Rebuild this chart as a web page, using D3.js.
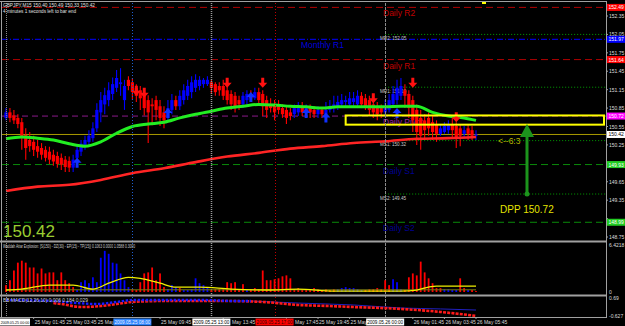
<!DOCTYPE html>
<html><head><meta charset="utf-8">
<script src="https://cdn.jsdelivr.net/npm/d3@7"></script>
<style>html,body{margin:0;padding:0;background:#000;overflow:hidden}svg{display:block}text{font-family:"Liberation Sans",Arial,sans-serif}</style>
</head><body>
<script>
// ---------------- DATA ----------------
const openP = [150.69,150.78,150.73,150.69,150.62,150.41,150.33,150.30,150.23,150.20,
150.17,150.14,150.09,150.07,150.04,150.01,149.99,149.88,150.04,150.14,
150.23,150.30,150.36,150.52,150.78,150.91,150.98,151.08,151.18,151.24,
150.98,151.31,151.27,151.18,151.14,151.08,150.98,150.91,150.98,150.88,
150.78,150.69,150.82,150.98,150.88,150.98,151.05,151.11,151.18,151.21,
151.24,151.24,151.27,151.24,151.21,151.21,151.14,151.08,151.05,150.98,
150.91,150.98,151.08,151.01,151.11,151.08,150.98,150.91,150.91,150.88,
150.85,150.82,150.78,150.75,150.78,150.88,150.78,150.85,150.82,150.75,
150.82,150.75,150.82,150.85,150.88,150.91,150.95,150.91,150.95,150.91,
151.05,151.01,150.98,150.91,150.88,150.85,150.78,150.82,150.91,150.98,
151.05,151.14,151.08,150.98,150.82,150.69,150.65,150.69,150.62,150.59,
150.43,150.46,150.49,150.59,150.56,150.52,150.43,150.52,150.49,150.40];
const highP = [150.85,150.85,150.82,150.75,150.69,150.52,150.46,150.40,150.33,150.28,
150.23,150.22,150.17,150.14,150.11,150.07,150.06,150.09,150.25,150.33,
150.40,150.49,150.62,150.93,151.11,151.18,151.27,151.35,151.47,151.50,
151.31,151.37,151.34,151.24,151.21,151.14,151.06,151.01,151.05,150.98,
150.88,150.98,151.08,151.05,151.14,151.24,151.31,151.37,151.40,151.37,
151.34,151.37,151.31,151.27,151.27,151.31,151.21,151.14,151.11,151.05,
151.11,151.14,151.14,151.18,151.18,151.14,151.05,151.01,150.98,150.98,
150.91,150.88,150.85,150.91,150.95,150.95,150.91,150.91,150.88,150.88,
150.85,150.95,150.98,151.05,151.05,151.08,151.05,151.11,151.11,151.14,
151.11,151.08,151.05,150.98,150.95,150.91,150.98,151.08,151.21,151.31,
151.34,151.24,151.14,151.05,150.91,150.82,150.75,150.78,150.72,150.65,
150.59,150.62,150.65,150.69,150.62,150.59,150.56,150.59,150.56,150.49];
const lowP = [150.65,150.62,150.59,150.52,150.17,150.01,150.14,150.07,150.04,150.01,
149.98,149.94,149.91,149.88,149.84,149.81,149.81,149.81,149.98,150.07,
150.17,150.23,150.30,150.46,150.62,150.75,150.88,150.98,151.11,151.05,
150.82,151.14,150.98,150.95,150.82,150.73,150.28,150.57,150.65,150.56,
150.52,150.62,150.75,150.82,150.82,150.91,150.98,151.01,151.11,151.14,
151.18,151.21,151.08,151.05,151.05,150.98,150.91,150.82,150.78,150.82,
150.85,150.91,150.95,150.98,150.91,150.72,150.69,150.78,150.65,150.75,
150.69,150.59,150.65,150.69,150.72,150.72,150.72,150.69,150.69,150.69,
150.69,150.72,150.78,150.78,150.82,150.85,150.88,150.85,150.88,150.85,
150.85,150.82,150.72,150.69,150.65,150.69,150.72,150.78,150.85,150.91,
150.98,150.85,150.69,150.46,150.25,150.17,150.33,150.40,150.33,150.30,
150.40,150.43,150.43,150.36,150.20,150.23,150.36,150.33,150.33,150.33];
const closeP = [150.78,150.69,150.65,150.59,150.38,150.20,150.23,150.17,150.14,150.09,
150.04,150.01,149.98,149.94,149.93,149.89,149.88,150.01,150.17,150.27,
150.33,150.40,150.52,150.82,150.98,151.06,151.14,151.24,151.34,151.27,
151.21,151.21,151.11,151.05,151.01,150.85,150.78,150.88,150.82,150.69,
150.65,150.85,150.98,150.88,151.05,151.14,151.21,151.27,151.31,151.31,
151.31,151.31,151.18,151.11,151.14,151.05,150.98,150.91,150.85,150.91,
151.05,151.08,151.01,151.11,150.98,150.88,150.82,150.85,150.78,150.82,
150.75,150.69,150.72,150.85,150.88,150.78,150.85,150.78,150.75,150.82,
150.75,150.82,150.88,150.91,150.95,150.98,150.98,151.01,151.01,151.05,
150.91,150.88,150.82,150.78,150.75,150.78,150.88,150.98,151.08,151.18,
151.21,151.05,150.85,150.65,150.46,150.40,150.49,150.52,150.46,150.43,
150.52,150.56,150.59,150.49,150.36,150.40,150.49,150.43,150.40,150.42];

// moving averages (sampled at bar indices)
const maIdx = [0,4,8,12,16,20,24,28,32,36,40,44,48,52,56,60,64,68,72,76,80,84,88,92,96,100,104,108,112,116,119];
const maFast = [150.35,150.38,150.36,150.33,150.27,150.23,150.30,150.44,150.55,150.59,150.62,150.69,150.75,150.80,150.85,150.88,150.91,150.90,150.88,150.87,150.85,150.87,150.87,150.87,150.87,150.88,150.88,150.78,150.72,150.69,150.65];
const maSlowIdx = [0,8,16,24,32,40,48,56,64,72,80,88,96,104,112,119];
const maSlow = [149.50,149.57,149.60,149.68,149.79,149.87,149.97,150.06,150.12,150.19,150.23,150.28,150.31,150.35,150.36,150.38];

// signal arrows
const sellIdx = [33,35,56,65,93,103,114];
const sellPrice = [151.05,151.02,151.18,151.18,150.93,151.18,150.62];
const buyIdx = [18,41,62,76,81,99];
const buyPrice = [150.04,150.85,151.11,150.85,150.78,150.85];

// levels
const dailyNames = ["Daily R2","Daily R1","Daily Pivot","Daily S1","Daily S2"];
const dailyValues = [152.49,151.64,150.72,149.93,148.99];
const monthlyR1 = 151.97;
const monthlyNames = ["MR2","MR1","MS1","MS2"];
const monthlyValues = [152.05,151.19,150.32,149.45];
const lastPrice = 150.42;
const boxTop = 150.73, boxBottom = 150.58, boxStartIdx = 86;
const dppFrom = 149.45, dppTo = 150.59;

// price axis
const priceTicks = [152.35,152.05,151.75,151.45,151.15,150.85,150.55,150.25,149.95,149.65,149.35,149.05,148.75];

// Waddah Attar Explosion histogram (+ up / - down)
const waeHist = [-0.94,-1.61,-2.94,-4.01,-4.28,-4.01,-3.35,-3.35,-2.54,-3.21,
-2.54,-2.68,-2.68,-1.61,-2.68,-1.61,-1.20,-0.67,0.27,1.34,
1.61,1.20,2.01,1.34,4.68,5.62,5.22,4.01,3.88,2.54,
1.61,0.67,-0.40,-0.27,-1.34,-2.54,-2.68,-3.35,-1.61,-2.54,
-0.67,0.40,0.94,0.67,-0.54,0.27,0.27,0.40,1.87,1.20,
0.94,0.67,-0.27,-0.40,-0.40,-0.54,-1.34,-1.20,-1.34,-0.40,
-1.07,0.27,-0.40,-0.54,-0.40,-2.94,-1.61,-1.61,-1.74,-1.87,
-2.14,-2.27,-1.87,-0.40,-0.54,-0.40,-0.27,-0.40,-0.54,-0.40,
-0.27,-0.40,-0.27,-0.40,0.40,0.54,0.67,0.54,0.54,0.40,
0.27,-0.27,-0.40,-0.40,-0.54,-0.40,-1.61,-0.94,1.74,1.34,
0.40,-0.27,-2.01,-2.54,-2.27,-4.15,-2.68,-1.87,-1.20,-0.54,
-0.54,0.40,0.40,0.27,0.27,-1.87,-0.54,0.27,-0.27,-0.13];
const explIdx = [0,4,11,17,22,26,31,34,39,43,49,57,66,74,83,91,100,104,107,109,119];
const explVal = [0.27,0.40,0.94,0.94,0.40,1.20,2.01,1.87,1.20,0.67,0.67,0.40,0.27,0.40,0.13,0.13,0.13,0.27,0.67,0.80,0.80];
const deadZone = 0.30;
const waeMax = 6.4218;

// MACD panel
const macdUpIdx = [0,6,12,18,23,28,32,40,50,58,62];
const macdUp = [0.54,0.51,0.47,0.32,0.25,0.40,0.54,0.54,0.54,0.47,0.47];
const sigIdx = [62,74,88,100,110,119];
const sigVal = [0.47,0.32,0.18,-0.04,-0.11,-0.19];
const macdDnIdx = [12,14,19,24,28,32,40,50,55,65,74,82,88,100,110,119];
const macdDn = [0.32,0.25,0.03,0.10,0.25,0.40,0.47,0.47,0.47,0.40,0.18,0.10,0.03,-0.11,-0.33,-0.62];
const macdMax = 0.69, macdMin = -0.627;

// time axis
const timeTickIdx = [7,15,23,31,39,47,55,63,71,79,87,95,103,111,119];
const timeTickLbl = ["25 May 01:45","25 May 03:45","25 May 05:45","25 May 07:45","25 May 09:45","25 May 11:45","25 May 13:45","25 May 15:45","25 May 17:45","25 May 19:45","25 May 21:45","25 May 23:45","26 May 01:45","26 May 03:45","26 May 05:45"];
const vlineIdx = [0,32,52,68,96];
const vlineLbl = ["2009.05.25 00:00","2009.05.25 08:00","2009.05.25 13:00","2009.05.25 17:00","2009.05.26 00:00"];

// ---------------- DRAW ----------------
const svg = d3.select("body").append("svg").attr("width",625).attr("height",326).style("background","#000");
const x = d3.scaleLinear().domain([0,119]).range([6,476]);
const y = d3.scaleLinear().domain([148.75,152.35]).range([237,16]);
const yW = d3.scaleLinear().domain([0,waeMax]).range([292,245]);
const yM = d3.scaleLinear().domain([macdMin,macdMax]).range([316,298]);
const AX = 606;

const defs = svg.append("defs");
defs.append("clipPath").attr("id","cm").append("rect").attr("x",2).attr("y",3).attr("width",AX-2).attr("height",237);
defs.append("clipPath").attr("id","cw").append("rect").attr("x",2).attr("y",243).attr("width",AX-2).attr("height",51);
defs.append("clipPath").attr("id","cd").append("rect").attr("x",2).attr("y",296).attr("width",AX-2).attr("height",21);

const gm = svg.append("g").attr("clip-path","url(#cm)");

// daily level lines
const dailyStyle = [
 {c:"#b00000",t:"#c00000",dash:"7,4"},{c:"#b00000",t:"#c00000",dash:"7,4"},
 {c:"#8a1a8a",t:"#a020a0",dash:"6,4"},{c:"#0a8a0a",t:"#000090",dash:"7,4"},{c:"#0a8a0a",t:"#000090",dash:"7,4"}];
dailyValues.forEach((v,k)=>{
  gm.append("line").attr("x1",2).attr("x2",AX).attr("y1",y(v)).attr("y2",y(v))
    .attr("stroke",dailyStyle[k].c).attr("stroke-dasharray",dailyStyle[k].dash).attr("stroke-width",1);
  gm.append("text").attr("x",383).attr("y",y(v)+9).attr("font-size",8.5).attr("fill",dailyStyle[k].t).text(dailyNames[k]);
});
// monthly R1
gm.append("line").attr("x1",2).attr("x2",AX).attr("y1",y(monthlyR1)).attr("y2",y(monthlyR1))
  .attr("stroke","#0000d0").attr("stroke-width",1.2).attr("stroke-dasharray","6,2,1,2");
gm.append("text").attr("x",301).attr("y",y(monthlyR1)+8.5).attr("font-size",8.5).attr("fill","#0000dd").text("Monthly R1");
// monthly pivots
monthlyValues.forEach((v,k)=>{
  gm.append("line").attr("x1",x(96)).attr("x2",AX).attr("y1",y(v)).attr("y2",y(v))
    .attr("stroke","#00a000").attr("stroke-dasharray","1,2");
  gm.append("text").attr("x",380).attr("y",y(v)+5.5).attr("font-size",4.6).attr("fill","#c8c8c8").text(monthlyNames[k]+": "+v.toFixed(2));
});
// current price line
gm.append("line").attr("x1",2).attr("x2",AX).attr("y1",y(lastPrice)).attr("y2",y(lastPrice)).attr("stroke","#a89a00").attr("stroke-width",1);

// vertical separators (full height)
const vStyle = [{c:"#8a8a8a",d:"1,1"},{c:"#1f5fd0",d:"1,2"},{c:"#9a9a9a",d:"1,1"},{c:"#c00000",d:"1,2"},{c:"#8a8a8a",d:"3,1"}];
vlineIdx.forEach((ix,k)=>{
  svg.append("line").attr("x1",Math.round(x(ix))+0.5).attr("x2",Math.round(x(ix))+0.5).attr("y1",3).attr("y2",317)
    .attr("stroke",vStyle[k].c).attr("stroke-dasharray",vStyle[k].d).attr("stroke-width",k===2?1.5:1);
});

// candles
const bars = openP.map((o,i)=>({i,o,h:highP[i],l:lowP[i],c:closeP[i]}));
const col = d=>d.c>=d.o?"#0000ff":"#ff0000";
gm.selectAll("line.wick").data(bars).join("line").attr("class","wick")
  .attr("x1",d=>x(d.i)).attr("x2",d=>x(d.i)).attr("y1",d=>y(d.h)).attr("y2",d=>y(d.l))
  .attr("stroke",col).attr("stroke-width",1.1);
gm.selectAll("rect.body").data(bars).join("rect").attr("class","body")
  .attr("x",d=>x(d.i)-1.6).attr("width",3.2)
  .attr("y",d=>y(Math.max(d.o,d.c))).attr("height",d=>Math.max(1,Math.abs(y(d.o)-y(d.c))))
  .attr("fill",col);

// MAs
const lineMain = d3.line().x(d=>x(d[0])).y(d=>y(d[1])).curve(d3.curveMonotoneX);
gm.append("path").attr("d",lineMain(maSlowIdx.map((ix,k)=>[ix,maSlow[k]]))).attr("fill","none").attr("stroke","#ff2424").attr("stroke-width",2.6);
gm.append("path").attr("d",lineMain(maIdx.map((ix,k)=>[ix,maFast[k]]))).attr("fill","none").attr("stroke","#22ee22").attr("stroke-width",3);

// arrows
function arrow(cx, tip, dir, color){
  const s = dir;
  const p = [[cx,tip],[cx-4.5,tip-5*s],[cx-1.5,tip-5*s],[cx-1.5,tip-10*s],[cx+1.5,tip-10*s],[cx+1.5,tip-5*s],[cx+4.5,tip-5*s]];
  gm.append("polygon").attr("points",p.map(q=>q.join(",")).join(" ")).attr("fill",color);
}
sellIdx.forEach((ix,k)=>arrow(x(ix),y(sellPrice[k]),1,"#ff1010"));
buyIdx.forEach((ix,k)=>arrow(x(ix),y(buyPrice[k]),-1,"#1030ff"));

// yellow box
gm.append("rect").attr("x",x(boxStartIdx)).attr("y",y(boxTop)).attr("width",AX-2-x(boxStartIdx)).attr("height",y(boxBottom)-y(boxTop))
  .attr("fill","none").attr("stroke","#ffff00").attr("stroke-width",2);

// DPP arrow
const ax = 527;
gm.append("line").attr("x1",ax).attr("x2",ax).attr("y1",y(dppFrom)).attr("y2",y(dppTo)+12).attr("stroke","#1c941c").attr("stroke-width",3);
gm.append("polygon").attr("points",[[ax,y(dppTo)],[ax-7,y(dppTo)+13],[ax+7,y(dppTo)+13]].map(q=>q.join(",")).join(" ")).attr("fill","#1c941c");
gm.append("circle").attr("cx",ax).attr("cy",y(dppFrom)).attr("r",2.5).attr("fill","#1c941c");
gm.append("text").attr("x",500).attr("y",213).attr("font-size",10).attr("fill","#e4e400").text("DPP "+dailyValues[2].toFixed(2));
gm.append("text").attr("x",498).attr("y",144).attr("font-size",8.5).attr("fill","#b8b800").text("<--6:3");

// big price
svg.append("text").attr("x",3).attr("y",237).attr("font-size",17).attr("fill","#9acd32").text(lastPrice.toFixed(2));

// header
svg.append("text").attr("x",3).attr("y",7).attr("font-size",5).attr("fill","#e0e0e0").attr("textLength",92).attr("lengthAdjust","spacingAndGlyphs")
  .text("GBPJPY,M15  "+[openP[119],highP[119],lowP[119],closeP[119]].map(v=>v.toFixed(2)).join(" "));
svg.append("text").attr("x",3).attr("y",12.5).attr("font-size",5).attr("fill","#e0e0e0").attr("textLength",73).attr("lengthAdjust","spacingAndGlyphs")
  .text("4 minutes 1 seconds left to bar end");
svg.append("rect").attr("x",482).attr("y",1).attr("width",4).attr("height",3).attr("fill","#ffff00");

// ---- Waddah Attar panel
const gw = svg.append("g").attr("clip-path","url(#cw)");
gw.selectAll("rect.h").data(waeHist).join("rect").attr("class","h")
  .attr("x",(d,i)=>x(i)-0.9).attr("width",1.8)
  .attr("y",d=>yW(Math.abs(d))).attr("height",d=>yW(0)-yW(Math.abs(d)))
  .attr("fill",d=>d>=0?"#0000ff":"#ff0000");
const lineW = d3.line().x(d=>x(d[0])).y(d=>yW(d[1])).curve(d3.curveMonotoneX);
gw.append("path").attr("d",lineW([[0,deadZone],[119,deadZone]])).attr("stroke","#7a7a10").attr("stroke-width",1).attr("fill","none");
gw.append("path").attr("d",lineW(explIdx.map((ix,k)=>[ix,explVal[k]]))).attr("stroke","#f0f000").attr("stroke-width",1.3).attr("fill","none");
svg.append("text").attr("x",3).attr("y",248).attr("font-size",5).attr("fill","#d0d0d0").attr("textLength",132).attr("lengthAdjust","spacingAndGlyphs")
  .text("Waddah Attar Explosion: [S(150) - DZ(30) - EP(15) - TP(15)] 0.1063 0.0000 1.0588 0.3000");

// ---- MACD panel
const gd = svg.append("g").attr("clip-path","url(#cd)");
const lineD = d3.line().x(d=>x(d[0])).y(d=>yM(d[1])).curve(d3.curveMonotoneX);
gd.append("path").attr("d",lineD(sigIdx.map((ix,k)=>[ix,sigVal[k]]))).attr("stroke","#2020c0").attr("stroke-width",1).attr("fill","none");
gd.append("path").attr("d",lineD(macdDnIdx.map((ix,k)=>[ix,macdDn[k]]))).attr("stroke","#ff1a1a").attr("stroke-width",2.6).attr("stroke-dasharray","3,1.2").attr("fill","none");
gd.append("path").attr("d",lineD(macdUpIdx.map((ix,k)=>[ix,macdUp[k]]))).attr("stroke","#1a1aff").attr("stroke-width",2.4).attr("stroke-dasharray","2.5,1.5").attr("fill","none");
svg.append("text").attr("x",3).attr("y",302).attr("font-size",5).attr("fill","#d0d0d0").attr("textLength",85).attr("lengthAdjust","spacingAndGlyphs")
  .text("BB MACD(12,26,10) 0.006 0.184 0.029");

// ---- frame
svg.append("line").attr("x1",0).attr("x2",AX).attr("y1",1.5).attr("y2",1.5).attr("stroke","#a0a0a0");
svg.append("line").attr("x1",1.5).attr("x2",1.5).attr("y1",1).attr("y2",317).attr("stroke","#a0a0a0");
svg.append("line").attr("x1",AX+0.5).attr("x2",AX+0.5).attr("y1",1).attr("y2",317).attr("stroke","#a0a0a0");
[241.5,295.5].forEach(v=>svg.append("line").attr("x1",0).attr("x2",AX).attr("y1",v).attr("y2",v).attr("stroke","#a0a0a0").attr("stroke-width",2));
svg.append("line").attr("x1",0).attr("x2",AX+1).attr("y1",317.5).attr("y2",317.5).attr("stroke","#a0a0a0");

// ---- right axis
const ra = svg.append("g");
const tags = [
 {v:dailyValues[0],bg:"#ff0000",fg:"#ffffff"},{v:monthlyR1,bg:"#0000ff",fg:"#ffffff"},{v:dailyValues[1],bg:"#ff0000",fg:"#ffffff"},
 {v:dailyValues[2],bg:"#ff00ff",fg:"#ffffff"},{v:lastPrice,bg:"#ffffff",fg:"#000000"},
 {v:dailyValues[3],bg:"#22cc22",fg:"#ffffff"},{v:dailyValues[4],bg:"#22cc22",fg:"#ffffff"}];
priceTicks.forEach(v=>{
  ra.append("line").attr("x1",AX).attr("x2",AX+2).attr("y1",y(v)).attr("y2",y(v)).attr("stroke","#a0a0a0");
  const covered = tags.some(t=>Math.abs(y(t.v)-y(v))<4.5);
  if (!covered) ra.append("text").attr("x",AX+3).attr("y",y(v)+2).attr("font-size",5).attr("fill","#dcdcdc").text(v.toFixed(2));
});
tags.forEach(t=>{
  ra.append("rect").attr("x",AX+1).attr("y",y(t.v)-3.5).attr("width",18).attr("height",7).attr("fill",t.bg);
  ra.append("text").attr("x",AX+2.5).attr("y",y(t.v)+2).attr("font-size",5).attr("fill",t.fg).text(t.v.toFixed(2));
});
[[waeMax.toFixed(4),yW(waeMax)],["0",yW(0)],[macdMax.toFixed(2),yM(macdMax)],[macdMin.toFixed(3),yM(macdMin)]].forEach(a=>{
  ra.append("text").attr("x",AX+3).attr("y",a[1]+2).attr("font-size",5).attr("fill","#dcdcdc").text(a[0]);
});

// ---- time axis
const ta = svg.append("g");
const boxes = vlineIdx.map((ix,k)=> k===0 ? [0,30] : [x(ix)-19, x(ix)+19]);
const TOL = 2;
let nextStart = 626;
for (let k = timeTickIdx.length-1; k >= 0; k--) {
  const ix = timeTickIdx[k];
  let sx = x(ix)+1;
  let words = timeTickLbl[k].split(" ");
  const inBox = boxes.find(b=>sx>=b[0]-0.5 && sx<b[1]);
  if (inBox) { sx = inBox[1]+1.5; words = words.slice(1); }
  const t = ta.append("text").attr("x",sx).attr("y",324).attr("font-size",5).attr("fill","#d8d8d8");
  let ok = false;
  while (words.length) {
    t.text(words.join(" "));
    const w = t.node().getComputedTextLength();
    const hitBox = boxes.some(b=>b[0] < sx+w-TOL && b[1] > sx+TOL);
    const hitNext = sx+w > nextStart;
    if (hitNext && inBox) break;
    if (!hitBox && !hitNext) { ok = true; break; }
    words = words.slice(0,-1);
  }
  if (ok) { nextStart = sx; ta.append("line").attr("x1",x(ix)).attr("x2",x(ix)).attr("y1",317).attr("y2",319).attr("stroke","#a0a0a0"); }
  else t.remove();
}
const vBox = [{bg:"#ffffff",fg:"#000"},{bg:"#2f86ff",fg:"#e8f0ff"},{bg:"#ffffff",fg:"#000"},{bg:"#ff0000",fg:"#300000"},{bg:"#ffffff",fg:"#000"}];
vlineIdx.forEach((ix,k)=>{
  const b = boxes[k];
  ta.append("rect").attr("x",b[0]).attr("y",318.5).attr("width",b[1]-b[0]).attr("height",7).attr("fill",vBox[k].bg);
  const fs = k===0 ? 3.7 : 5;
  const tx = ta.append("text").attr("x",(b[0]+b[1])/2).attr("y",324).attr("text-anchor","middle").attr("font-size",fs)
    .attr("fill",vBox[k].fg).text(vlineLbl[k]);
  if (k>0) tx.attr("textLength",b[1]-b[0]-2).attr("lengthAdjust","spacingAndGlyphs");
});
</script>
</body></html>
